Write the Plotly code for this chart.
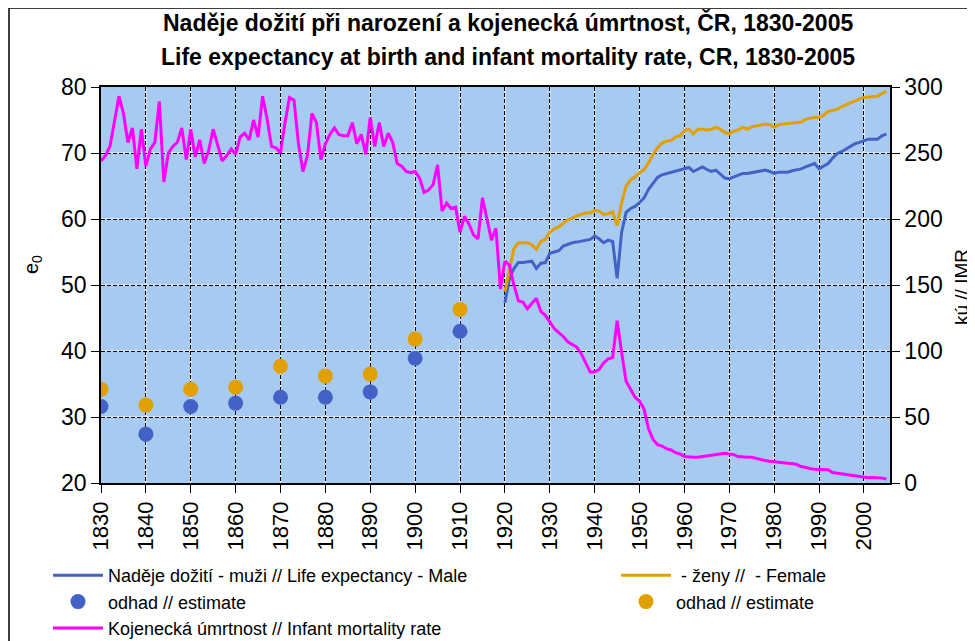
import plotly.graph_objects as go

# ---------------- data ----------------
imr_years = list(range(1830, 2006))
imr = [
    244, 248, 255, 273, 293, 280, 258, 269, 238, 268,   # 1830-1839
    240, 253, 258, 289, 228, 250, 255, 258, 269, 245,   # 1840-1849
    268, 247, 260, 242, 252, 268, 255, 244, 248, 253,   # 1850-1859
    249, 262, 265, 260, 275, 262, 293, 276, 255, 254,   # 1860-1869
    250, 273, 292, 290, 257, 236, 248, 280, 273, 245,   # 1870-1879
    257, 264, 269, 264, 263, 263, 273, 257, 264, 249,   # 1880-1889
    277, 255, 273, 255, 265, 258, 242, 240, 236, 235,   # 1890-1899
    236, 231, 220, 222, 226, 241, 206, 212, 208, 209,   # 1900-1909
    190, 202, 196, 188, 185, 216, 200, 184, 193, 147,   # 1910-1919
    168, 165, 150, 138, 137, 132, 136, 140, 130, 127,   # 1920-1929
    122, 117, 114, 111, 107, 105, 103, 98, 91, 84,      # 1930-1939
    84, 86, 91, 94, 95, 123, 99, 77, 71, 65,            # 1940-1949
    62, 56, 41, 33, 29, 28, 26, 25, 23, 22,             # 1950-1959
    20, 19.5, 19.5, 19.5, 20, 21, 21, 22, 22, 22.5,     # 1960-1969
    22, 21.5, 20, 19.5, 19.5, 19.5, 18.5, 17.5, 17, 16.5,  # 1970-1979
    16, 15.5, 15.5, 15, 14.8, 14, 12.5, 11.5, 11, 10.5,    # 1980-1989
    10.5, 10.5, 10, 8, 7.5, 7, 6.5, 6, 5, 4.6,             # 1990-1999
    4.1, 4, 4.1, 4, 3.7, 3,                                # 2000-2005
]

le_years = list(range(1920, 2006))
le_male = [
    47.3, 51.0, 52.5, 53.4, 53.4, 53.5, 53.6, 52.5, 53.3, 53.4,   # 1920-1929
    54.8, 55.0, 55.2, 55.9, 56.2, 56.4, 56.5, 56.6, 56.8, 56.9,   # 1930-1939
    57.4, 57.0, 56.4, 56.8, 56.6, 51.0, 58.0, 61.0, 61.6, 61.9,   # 1940-1949
    62.5, 63.2, 64.5, 65.5, 66.3, 66.7, 66.9, 67.0, 67.3, 67.5,   # 1950-1959
    67.6, 67.8, 67.2, 67.6, 67.9, 67.5, 67.2, 67.4, 66.8, 66.2,   # 1960-1969
    66.1, 66.4, 66.7, 66.9, 66.9, 67.0, 67.1, 67.2, 67.4, 67.2,   # 1970-1979
    66.9, 67.1, 67.1, 67.1, 67.3, 67.4, 67.6, 67.9, 68.1, 68.4,   # 1980-1989
    67.6, 68.0, 68.4, 69.2, 69.9, 70.2, 70.6, 71.0, 71.4, 71.6,   # 1990-1999
    71.9, 72.1, 72.1, 72.1, 72.6, 72.9,                           # 2000-2005
]
le_female = [
    49.0, 52.0, 55.5, 56.4, 56.4, 56.4, 56.1, 55.4, 56.6, 56.9,   # 1920-1929
    58.0, 58.5, 58.8, 59.4, 59.9, 60.1, 60.5, 60.7, 60.9, 60.9,   # 1930-1939
    61.3, 61.2, 60.7, 60.8, 61.1, 59.0, 62.5, 65.0, 65.9, 66.4,   # 1940-1949
    66.9, 67.5, 68.5, 69.8, 70.8, 71.5, 71.8, 71.9, 72.4, 72.6,   # 1950-1959
    73.4, 73.6, 72.9, 73.6, 73.6, 73.5, 73.6, 73.9, 73.6, 73.1,   # 1960-1969
    72.9, 73.3, 73.5, 73.9, 73.6, 74.0, 74.1, 74.2, 74.4, 74.3,   # 1970-1979
    73.9, 74.3, 74.4, 74.5, 74.6, 74.6, 74.7, 75.1, 75.3, 75.4,   # 1980-1989
    75.4, 75.7, 76.3, 76.5, 76.6, 77.0, 77.3, 77.6, 78.0, 78.2,   # 1990-1999
    78.4, 78.5, 78.6, 78.6, 79.0, 79.4,                           # 2000-2005
]

est_years = [1830, 1840, 1850, 1860, 1870, 1880, 1890, 1900, 1910]
est_male = [31.6, 27.4, 31.6, 32.1, 33.0, 33.0, 33.8, 38.9, 43.0]
est_female = [34.2, 31.8, 34.2, 34.5, 37.7, 36.2, 36.5, 41.8, 46.3]

x_ticks = list(range(1830, 2001, 10))
y_ticks = [20, 30, 40, 50, 60, 70, 80]
y2_ticks = [0, 50, 100, 150, 200, 250, 300]

title_cz = "Naděje dožití při narození a kojenecká úmrtnost, ČR, 1830-2005"
title_en = "Life expectancy at birth and infant mortality rate, CR, 1830-2005"
y_title = "e<sub>0</sub>"
y2_title = "kú // IMR"

# ---------------- styles / geometry ----------------
FONT = "Liberation Sans, Arial, sans-serif"
BLUE = "#4262C6"
ORANGE = "#E2A000"
MAGENTA = "#FF00FF"
BG = "#A6CAF0"
W, H = 975, 641
OFF = 8  # page body margin offset
# plot area in screen pixels
SX0, SX1, SY0, SY1 = 101, 890, 87, 483
ML, MT = SX0 - OFF, SY0 - OFF
PW, PH = SX1 - SX0, SY1 - SY0
MR, MB = W - ML - PW, H - MT - PH


def px_x(sx):
    return (sx - SX0) / PW


def px_y(sy):
    return (SY1 - sy) / PH


def cont_x(sx):
    return (sx - OFF) / W


def cont_y(sy):
    return 1 - (sy - OFF) / H


fig = go.Figure()
fig.add_trace(go.Scatter(x=le_years, y=le_male, mode="lines",
                         line=dict(color=BLUE, width=3), legend="legend",
                         name="Naděje dožití - muži // Life expectancy - Male"))
fig.add_trace(go.Scatter(x=le_years, y=le_female, mode="lines",
                         line=dict(color=ORANGE, width=3), legend="legend2",
                         name=" - ženy //  - Female"))
fig.add_trace(go.Scatter(x=est_years, y=est_male, mode="markers",
                         marker=dict(color=BLUE, size=15, symbol="circle"),
                         legend="legend", name="odhad // estimate"))
fig.add_trace(go.Scatter(x=est_years, y=est_female, mode="markers",
                         marker=dict(color=ORANGE, size=15, symbol="circle"),
                         legend="legend2", name="odhad // estimate"))
fig.add_trace(go.Scatter(x=imr_years, y=imr, mode="lines", yaxis="y2",
                         line=dict(color=MAGENTA, width=3), legend="legend",
                         name="Kojenecká úmrtnost // Infant mortality rate"))

# white under-lines for the two-tone dashed grid
shapes = []
for xv in x_ticks[1:]:
    shapes.append(dict(type="line", xref="x", yref="paper", x0=xv, x1=xv, y0=0, y1=1,
                       line=dict(color="white", width=1), layer="below"))
for yv in y_ticks[1:-1]:
    shapes.append(dict(type="line", xref="paper", yref="y", x0=0, x1=1, y0=yv, y1=yv,
                       line=dict(color="white", width=1), layer="below"))
# outer chart border
shapes.append(dict(type="rect", xref="paper", yref="paper",
                   x0=px_x(9), x1=px_x(1000), y0=px_y(670), y1=px_y(8),
                   line=dict(color="black", width=1.5), fillcolor="rgba(0,0,0,0)",
                   layer="above"))

annotations = [
    dict(text="<b>" + title_cz + "</b>", xref="paper", yref="paper",
         x=px_x(508), y=px_y(22), xanchor="center", yanchor="middle", showarrow=False,
         font=dict(size=23, family=FONT, color="black")),
    dict(text="<b>" + title_en + "</b>", xref="paper", yref="paper",
         x=px_x(508), y=px_y(57), xanchor="center", yanchor="middle", showarrow=False,
         font=dict(size=23, family=FONT, color="black")),
    dict(text=y_title, xref="paper", yref="paper", x=px_x(32), y=px_y(265),
         xanchor="center", yanchor="middle", textangle=-90, showarrow=False,
         font=dict(size=20, family=FONT, color="black")),
    dict(text=y2_title, xref="paper", yref="paper", x=px_x(961), y=px_y(287),
         xanchor="center", yanchor="middle", textangle=-90, showarrow=False,
         font=dict(size=19, family=FONT, color="black")),
]

legend_common = dict(orientation="v", xref="container", yref="container",
                     xanchor="left", yanchor="top", itemwidth=50,
                     font=dict(size=18, family=FONT), bgcolor="rgba(0,0,0,0)")

fig.update_layout(
    width=W, height=H,
    margin=dict(l=ML, r=MR, t=MT, b=MB, autoexpand=False),
    paper_bgcolor="white",
    plot_bgcolor=BG,
    font=dict(family=FONT, color="black"),
    showlegend=True,
    legend=dict(x=cont_x(48), y=cont_y(557), **legend_common),
    legend2=dict(x=cont_x(616), y=cont_y(557), **legend_common),
    xaxis=dict(range=[1830, 2005.8], tickvals=x_ticks, ticktext=[str(v) for v in x_ticks],
               tickangle=-90, tickfont=dict(size=22), ticks="outside", ticklen=8,
               tickcolor="black", showline=True, linecolor="black", linewidth=1.5,
               mirror=True, showgrid=True, gridcolor="black", griddash="4px,2px",
               gridwidth=1, zeroline=False, automargin=False),
    yaxis=dict(range=[20, 80], tickvals=y_ticks, tickfont=dict(size=23), ticks="outside",
               ticklen=8, tickcolor="black", showline=True, linecolor="black",
               linewidth=1.5, showgrid=True, gridcolor="black", griddash="4px,2px",
               gridwidth=1, zeroline=False, automargin=False),
    yaxis2=dict(range=[0, 300], tickvals=y2_ticks, overlaying="y", side="right",
                tickfont=dict(size=23), ticks="outside", ticklen=8, tickcolor="black",
                showline=True, linecolor="black", linewidth=1.5, showgrid=False,
                zeroline=False, automargin=False),
    shapes=shapes,
    annotations=annotations,
)

fig.write_html("out.html")
